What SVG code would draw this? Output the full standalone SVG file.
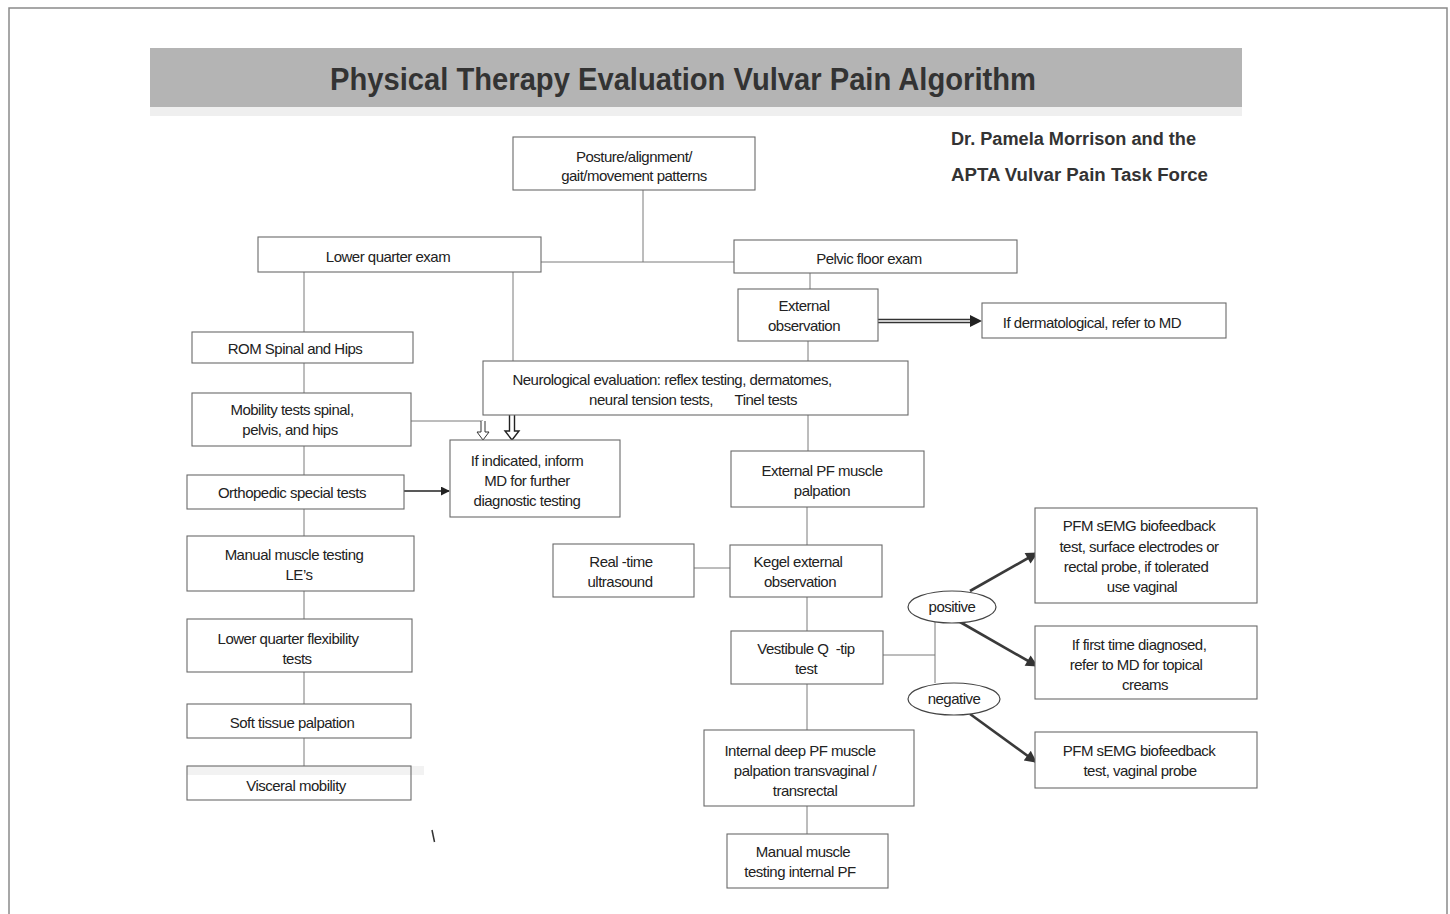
<svg xmlns="http://www.w3.org/2000/svg" width="1450" height="914" viewBox="0 0 1450 914">
  <defs>
    <marker id="arrowSolid" viewBox="0 0 10 10" refX="9" refY="5" markerWidth="9" markerHeight="9" markerUnits="userSpaceOnUse" orient="auto">
      <path d="M0,0 L10,5 L0,10 Z" fill="#222"/>
    </marker>
    <marker id="arrowBig" viewBox="0 0 10 10" refX="9" refY="5" markerWidth="14" markerHeight="12" markerUnits="userSpaceOnUse" orient="auto">
      <path d="M0,0 L10,5 L0,10 Z" fill="#333"/>
    </marker>
  </defs>
  <style>
    .frame { fill: none; stroke: #8a8a8a; stroke-width: 1.5; }
    .box { fill: #ffffff; stroke: #6a6a6a; stroke-width: 1.1; }
    .line { fill: none; stroke: #7a7a7a; stroke-width: 1; }
    .arrow { fill: none; stroke: #222; stroke-width: 1.4; }
    .thick { fill: none; stroke: #3a3a3a; stroke-width: 2.6; }
    .oval { fill: #ffffff; stroke: #444; stroke-width: 1.2; }
    .t { font-family: "Liberation Sans", Arial, sans-serif; font-size: 15px; fill: #222; text-anchor: middle; letter-spacing: -0.5px; }
    .title { font-family: "Liberation Sans", Arial, sans-serif; font-weight: bold; font-size: 31px; fill: #333; text-anchor: middle; }
    .author { font-family: "Liberation Sans", Arial, sans-serif; font-weight: bold; font-size: 18px; fill: #333; }
  </style>

  <rect width="1450" height="914" fill="#ffffff"/>
  <!-- page frame -->
  <path class="frame" d="M9,914 V8 H1447 V914"/>

  <!-- title band -->
  <g id="title">
    <rect x="150" y="48" width="1092" height="59" fill="#b4b4b4"/>
    <rect x="150" y="107" width="1092" height="9" fill="#efefef"/>
    <text class="title" x="683" y="90" textLength="706" lengthAdjust="spacingAndGlyphs">Physical Therapy Evaluation Vulvar Pain Algorithm</text>
  </g>

  <g id="authors">
    <text class="author" x="951" y="145" textLength="245" lengthAdjust="spacingAndGlyphs">Dr. Pamela Morrison and the</text>
    <text class="author" x="951" y="181" textLength="257" lengthAdjust="spacingAndGlyphs">APTA Vulvar Pain Task Force</text>
  </g>

  <!-- connectors -->
  <g id="connectors">
    <path class="line" d="M643,190 V262"/>
    <path class="line" d="M541,262 H734"/>
    <path class="line" d="M304,272 V333"/>
    <path class="line" d="M513,272 V361"/>
    <path class="line" d="M810,273 V289"/>
    <path class="line" d="M304,363 V393"/>
    <path class="line" d="M304,446 V475"/>
    <path class="line" d="M304,509 V536"/>
    <path class="line" d="M304,591 V619"/>
    <path class="line" d="M304,672 V704"/>
    <path class="line" d="M304,738 V766"/>
    <path class="line" d="M808,341 V361"/>
    <path class="line" d="M808,415 V451"/>
    <path class="line" d="M807,507 V545"/>
    <path class="line" d="M694,568 H730"/>
    <path class="line" d="M807,597 V631"/>
    <path class="line" d="M807,684 V730"/>
    <path class="line" d="M807,806 V834"/>
    <path class="line" d="M883,655 H935"/>
    <path class="line" d="M935,622 V683"/>
    <!-- mobility to inform MD -->
    <path class="line" d="M411,421 H483"/>
    <path d="M481,421 V432 H477 L483,440 L489,432 H485 V421" fill="#fff" stroke="#333" stroke-width="1"/>
    <!-- neuro to inform MD -->
    <path d="M509.5,415 V431 H505 L512,440 L519,431 H514.5 V415" fill="#fff" stroke="#222" stroke-width="1.4"/>
    <!-- orthopedic to inform MD -->
    <path class="arrow" d="M404,491 H449" marker-end="url(#arrowSolid)"/>
    <!-- external observation to dermatological -->
    <path d="M878,319.5 H972 M878,322.5 H972" stroke="#333" stroke-width="1.3" fill="none"/>
    <path d="M970,315 L982,321 L970,327 Z" fill="#222"/>
    <!-- result branches -->
    <path class="thick" d="M970,591 L1037,553" marker-end="url(#arrowBig)"/>
    <path class="thick" d="M960,622 L1037,666" marker-end="url(#arrowBig)"/>
    <path class="thick" d="M970,714 L1036,762" marker-end="url(#arrowBig)"/>
  </g>

  <g id="posture">
    <rect class="box" x="513" y="137" width="242" height="53"/>
    <text class="t" x="634" y="162">Posture/alignment/</text>
    <text class="t" x="634" y="181">gait/movement patterns</text>
  </g>
  <g id="lower-quarter">
    <rect class="box" x="258" y="237" width="283" height="35"/>
    <text class="t" x="388" y="262">Lower quarter exam</text>
  </g>
  <g id="pelvic-floor">
    <rect class="box" x="734" y="240" width="283" height="33"/>
    <text class="t" x="869" y="264">Pelvic floor exam</text>
  </g>
  <g id="external-observation">
    <rect class="box" x="738" y="289" width="140" height="52"/>
    <text class="t" x="804" y="311">External</text>
    <text class="t" x="804" y="331">observation</text>
  </g>
  <g id="dermatological">
    <rect class="box" x="982" y="303" width="244" height="35"/>
    <text class="t" x="1092" y="328">If dermatological, refer to MD</text>
  </g>
  <g id="rom">
    <rect class="box" x="192" y="332" width="221" height="31"/>
    <text class="t" x="295" y="354">ROM Spinal and Hips</text>
  </g>
  <g id="neurological">
    <rect class="box" x="483" y="361" width="425" height="54"/>
    <text class="t" x="672" y="385">Neurological evaluation: reflex testing, dermatomes,</text>
    <text class="t" x="693" y="405" xml:space="preserve">neural tension tests,      Tinel tests</text>
  </g>
  <g id="mobility">
    <rect class="box" x="192" y="393" width="219" height="53"/>
    <text class="t" x="292" y="415">Mobility tests spinal,</text>
    <text class="t" x="290" y="435">pelvis, and hips</text>
  </g>
  <g id="inform-md">
    <rect class="box" x="450" y="440" width="170" height="77"/>
    <text class="t" x="527" y="466">If indicated, inform</text>
    <text class="t" x="527" y="486">MD for further</text>
    <text class="t" x="527" y="506">diagnostic testing</text>
  </g>
  <g id="orthopedic">
    <rect class="box" x="187" y="475" width="217" height="34"/>
    <text class="t" x="292" y="498">Orthopedic special tests</text>
  </g>
  <g id="manual-le">
    <rect class="box" x="187" y="536" width="227" height="55"/>
    <text class="t" x="294" y="560">Manual muscle testing</text>
    <text class="t" x="299" y="580">LE’s</text>
  </g>
  <g id="flexibility">
    <rect class="box" x="187" y="619" width="225" height="53"/>
    <text class="t" x="288" y="644">Lower quarter flexibility</text>
    <text class="t" x="297" y="664">tests</text>
  </g>
  <g id="soft-tissue">
    <rect class="box" x="187" y="704" width="224" height="34"/>
    <text class="t" x="292" y="728">Soft tissue palpation</text>
  </g>
  <g id="visceral">
    <rect x="187" y="766" width="237" height="9" fill="#f2f2f2"/>
    <rect class="box" x="187" y="766" width="224" height="34" fill-opacity="0"/>
    <text class="t" x="296" y="791">Visceral mobility</text>
  </g>
  <g id="external-pf">
    <rect class="box" x="731" y="451" width="193" height="56"/>
    <text class="t" x="822" y="476">External PF muscle</text>
    <text class="t" x="822" y="496">palpation</text>
  </g>
  <g id="ultrasound">
    <rect class="box" x="553" y="544" width="141" height="53"/>
    <text class="t" x="621" y="567">Real -time</text>
    <text class="t" x="620" y="587">ultrasound</text>
  </g>
  <g id="kegel">
    <rect class="box" x="730" y="545" width="152" height="52"/>
    <text class="t" x="798" y="567">Kegel external</text>
    <text class="t" x="800" y="587">observation</text>
  </g>
  <g id="q-tip">
    <rect class="box" x="731" y="631" width="152" height="53"/>
    <text class="t" x="806" y="654" xml:space="preserve">Vestibule Q  -tip</text>
    <text class="t" x="806" y="674">test</text>
  </g>
  <g id="positive">
    <ellipse class="oval" cx="952" cy="607" rx="44" ry="16"/>
    <text class="t" x="952" y="612">positive</text>
  </g>
  <g id="negative">
    <ellipse class="oval" cx="954" cy="699" rx="46" ry="16"/>
    <text class="t" x="954" y="704">negative</text>
  </g>
  <g id="semg-surface">
    <rect class="box" x="1035" y="508" width="222" height="95"/>
    <text class="t" x="1139" y="531">PFM sEMG biofeedback</text>
    <text class="t" x="1139" y="552">test, surface electrodes or</text>
    <text class="t" x="1136" y="572">rectal probe, if tolerated</text>
    <text class="t" x="1142" y="592">use vaginal</text>
  </g>
  <g id="first-time">
    <rect class="box" x="1035" y="626" width="222" height="73"/>
    <text class="t" x="1139" y="650">If first time diagnosed,</text>
    <text class="t" x="1136" y="670">refer to MD for topical</text>
    <text class="t" x="1145" y="690">creams</text>
  </g>
  <g id="semg-vaginal">
    <rect class="box" x="1035" y="732" width="222" height="56"/>
    <text class="t" x="1139" y="756">PFM sEMG biofeedback</text>
    <text class="t" x="1140" y="776">test, vaginal probe</text>
  </g>
  <g id="internal-deep">
    <rect class="box" x="704" y="730" width="210" height="76"/>
    <text class="t" x="800" y="756">Internal deep PF muscle</text>
    <text class="t" x="805" y="776">palpation transvaginal /</text>
    <text class="t" x="805" y="796">transrectal</text>
  </g>
  <g id="manual-internal">
    <rect class="box" x="727" y="834" width="161" height="54"/>
    <text class="t" x="803" y="857">Manual muscle</text>
    <text class="t" x="800" y="877">testing internal PF</text>
  </g>

  <!-- stray pen mark -->
  <path d="M432,830 L434.5,842" stroke="#333" stroke-width="1.5" fill="none"/>
</svg>
